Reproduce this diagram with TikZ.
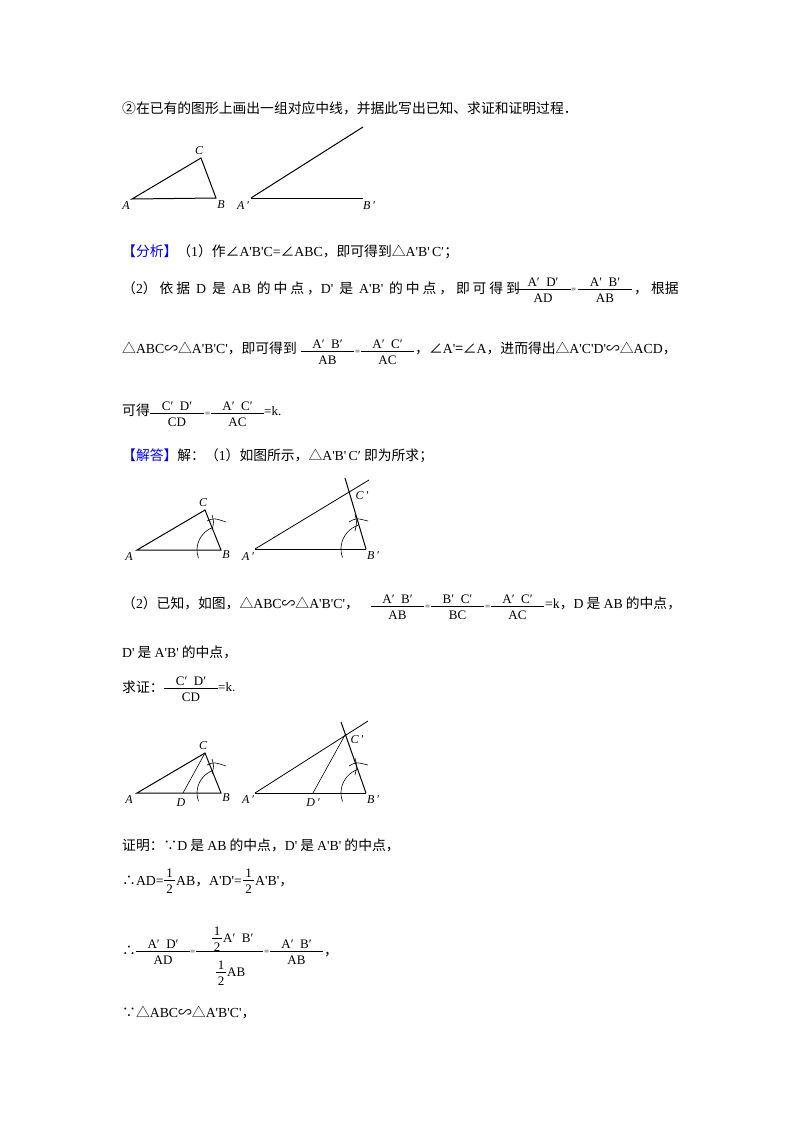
\documentclass[tikz,border=0pt]{standalone}
\usepackage{fontspec}
\setmainfont{Noto Sans CJK SC}
\newfontfamily\E{Liberation Serif}
\newcommand\e[1]{{\E #1}}
\newcommand\frc[5]{%
 \draw[line width=0.6pt] (#1,#2) -- ({#1+#3},#2);
 \node[fr] at ({#1+#3/2},{#2-3}) {#4};
 \node[fr] at ({#1+#3/2},{#2+13}) {#5};}
\tikzset{
 txt/.style={anchor=base west,inner sep=0,font=\fontsize{13.8}{16}\selectfont},
 fr/.style={anchor=base,inner sep=0,font=\E\fontsize{13}{15}\selectfont},
 ln/.style={line width=1pt},
 thin/.style={line width=0.6pt},
 lab/.style={inner sep=0,font=\E\itshape\fontsize{12}{14}\selectfont}}
\begin{document}
\begin{tikzpicture}[x=1pt,y=-1pt]
\useasboundingbox[fill=white] (0,0) rectangle (800,1132);
% line 1
\node[txt] (l1) at (122,113) {②在已有的图形上画出一组对应中线，并据此写出已知、求证和证明过程．};
% figure 1
\coordinate (A) at (132,199); \coordinate (B) at (216,198); \coordinate (C) at (201,158);
\coordinate (A1) at (251,198); \coordinate (B1) at (363,198); \coordinate (R1) at (363,127);
\draw[ln] (A)--(B)--(C)--cycle;
\draw[ln] (A1)--(B1); \draw[ln] (A1)--(R1);
\node[lab] (la) at (126,206) {A}; \node[lab] (lb) at (221,205) {B}; \node[lab] (lc) at (199,151) {C};
\node[lab] (la1) at (243,206) {A\,′}; \node[lab] (lb1) at (369,206) {B\,′};
% analysis
\node[txt] (f1) at (122,256) {\textcolor{blue}{【分析】}（\e{1}）作∠\e{A'B'C=}∠\e{ABC}，即可得到△\e{A'B'\,C′}；};
\node[txt] (f2) at (122,293) {\addfontfeature{LetterSpace=21}（\e{2}）依据 \e{D} 是 \e{AB} 的中点，\e{D'} 是 \e{A'B'} 的中点，即可得到};
\frc{515}{289}{56}{A′\ \ D′}{AD}
\node[fr,anchor=base west] at (571,292) {\fontsize{9}{9}\selectfont =};
\frc{578}{289}{54}{A′\ \ B′}{AB}
\node[txt] at (634,293) {，\ 根据};
\node[txt] (f3) at (122,353) {△\e{ABC}∽△\e{A'B'C'}，即可得到};
\frc{301}{351}{53}{A′\ \ B′}{AB}
\node[fr,anchor=base west] at (355,354) {\fontsize{9}{9}\selectfont =};
\frc{361}{351}{53}{A′\ \ C′}{AC}
\node[txt] at (415,353) {，∠\e{A'}=∠\e{A}，进而得出△\e{A'C'D'}∽△\e{ACD}，};
\node[txt] (f4) at (122,415) {可得};
\frc{150}{413}{54}{C′\ \ D′}{CD}
\node[fr,anchor=base west] at (205,416) {\fontsize{9}{9}\selectfont =};
\frc{211}{413}{53}{A′\ \ C′}{AC}
\node[fr,anchor=base west] at (264,415) {=k.};
% answer
\node[txt] (s1) at (122,460) {\textcolor{blue}{【解答】}解：（\e{1}）如图所示，△\e{A'B'\,C′} 即为所求；};
% figure 2
\coordinate (A) at (137,550); \coordinate (B) at (221,550); \coordinate (C) at (205,510);
\draw[ln] (A)--(B)--(C)--cycle;
\draw[thin] (B) ++(160:24) arc[start angle=160,end angle=250,radius=24];
\draw[thin] (207,521) .. controls (214,518) .. (226,522);
\draw[thin] (212,515) .. controls (214,522) .. (212,530);
\node[lab] at (129,557) {A}; \node[lab] at (226,555) {B}; \node[lab] at (203,503) {C};
\coordinate (A1) at (255,549); \coordinate (B1) at (366,549); \coordinate (C1) at (349,491);
\coordinate (R1) at (369,480); \coordinate (T1) at (345,478);
\draw[ln] (A1)--(B1); \draw[line width=0.8pt] (A1)--(R1); \draw[ln] (B1)--(T1);
\draw[thin] (B1) ++(160:25) arc[start angle=160,end angle=252,radius=25];
\draw[thin] (349,522) .. controls (356,518) .. (368,521);
\draw[thin] (355,514) .. controls (357,522) .. (355,531);
\node[lab] at (248,557) {A\,′}; \node[lab] at (373,556) {B\,′}; \node[lab] at (362,496) {C\,′};
% given
\node[txt] (g1) at (122,608) {（\e{2}）已知，如图，△\e{ABC}∽△\e{A'B'C'}，};
\frc{371}{606}{53}{A′\ \ B′}{AB}
\node[fr,anchor=base west] at (425,609) {\fontsize{9}{9}\selectfont =};
\frc{431}{606}{53}{B′\ \ C′}{BC}
\node[fr,anchor=base west] at (485,609) {\fontsize{9}{9}\selectfont =};
\frc{491}{606}{53}{A′\ \ C′}{AC}
\node[txt] at (545,608) {\e{=k}，\e{D} 是 \e{AB} 的中点，};
\node[txt] (g2) at (122,657) {\e{D'} 是 \e{A'B'} 的中点，};
\node[txt] (g3) at (122,692) {求证：};
\frc{164}{688}{54}{C′\ \ D′}{CD}
\node[fr,anchor=base west] at (218,691) {=k.};
% figure 3
\coordinate (A) at (137,793); \coordinate (B) at (221,793); \coordinate (C) at (205,753); \coordinate (D) at (183,793);
\draw[ln] (A)--(B)--(C)--cycle; \draw[thin] (C)--(D);
\draw[thin] (B) ++(160:24) arc[start angle=160,end angle=250,radius=24];
\draw[thin] (207,765) .. controls (214,762) .. (226,766);
\draw[thin] (212,759) .. controls (214,766) .. (212,774);
\node[lab] at (129,800) {A}; \node[lab] at (226,798) {B}; \node[lab] at (203,746) {C}; \node[lab] at (181,803) {D};
\coordinate (A1) at (255,793); \coordinate (B1) at (366,793); \coordinate (C1) at (345,735);
\coordinate (D1) at (313,793); \coordinate (R1) at (368,721); \coordinate (T1) at (341,722);
\draw[ln] (A1)--(B1); \draw[line width=0.8pt] (A1)--(R1); \draw[ln] (B1)--(T1); \draw[thin] (C1)--(D1);
\draw[thin] (B1) ++(160:25) arc[start angle=160,end angle=252,radius=25];
\draw[thin] (349,766) .. controls (356,762) .. (368,765);
\draw[thin] (355,758) .. controls (357,766) .. (355,775);
\node[lab] at (248,800) {A\,′}; \node[lab] at (373,800) {B\,′}; \node[lab] at (357,740) {C\,′}; \node[lab] at (313,803) {D\,′};
% proof
\node[txt] (p1) at (122,850) {证明：∵\e{D} 是 \e{AB} 的中点，\e{D'} 是 \e{A'B'} 的中点，};
\node[txt] (p2) at (122,885) {∴\e{AD=}};
\frc{164}{880}{11}{1}{2}
\node[txt] at (176,885) {\e{AB}，\e{A'D'=}};
\frc{243}{880}{11}{1}{2}
\node[txt] at (255,885) {\e{A'B'}，};
\node[txt] (p3) at (122,955) {∴};
\frc{136}{951}{54}{A′\ \ D′}{AD}
\node[fr,anchor=base west] at (190,954) {\fontsize{9}{9}\selectfont =};
\draw[line width=0.6pt] (196,951) -- (263,951);
\frc{212}{938}{10}{1}{2}
\node[fr,anchor=base west] at (223,942) {A′\ \ B′};
\frc{216}{972}{10}{1}{2}
\node[fr,anchor=base west] at (227,976) {AB};
\node[fr,anchor=base west] at (264,954) {\fontsize{9}{9}\selectfont =};
\frc{270}{951}{53}{A′\ \ B′}{AB}
\node[txt] at (324,955) {，};
\node[txt] (p4) at (122,1017) {∵△\e{ABC}∽△\e{A'B'C'}，};
\end{tikzpicture}
\end{document}
